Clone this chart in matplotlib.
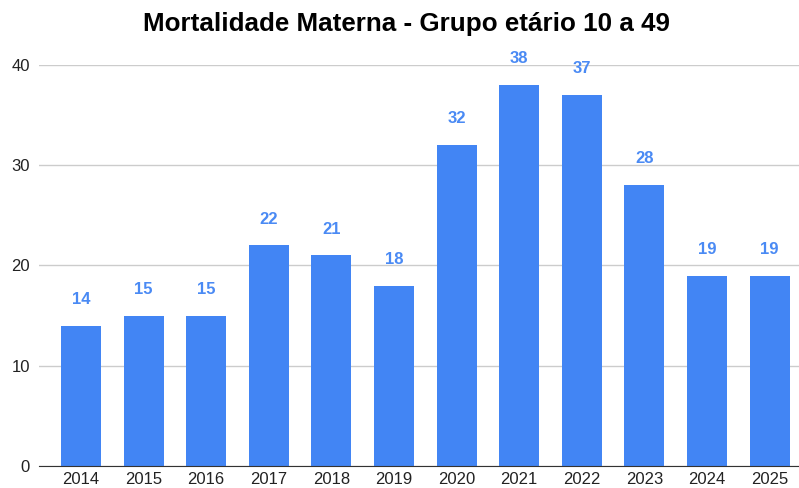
import matplotlib.pyplot as plt
import numpy as np

plt.rcParams['font.family'] = ['Liberation Sans', 'DejaVu Sans']

anos = ['2014', '2015', '2016', '2017', '2018', '2019',
        '2020', '2021', '2022', '2023', '2024', '2025']
obitos = [14, 15, 15, 22, 21, 18, 32, 38, 37, 28, 19, 19]

bar_color = '#4285f4'
label_color = '#4a8af4'

fig = plt.figure(figsize=(7.99, 4.88), dpi=100)
ax = fig.add_axes([0.0488, 0.0451, 0.9512, 0.8217])

x = np.arange(len(anos))
bars = ax.bar(x, obitos, 0.64, color=bar_color, zorder=3)

for b in bars:
    h = b.get_height()
    ax.annotate('%d' % h, (b.get_x() + b.get_width() / 2, h),
                xytext=(0, 19), textcoords='offset points',
                ha='center', va='center', fontsize=12, fontweight='bold',
                color=label_color, annotation_clip=False)

ax.set_xlim(-0.67, 11.47)
ax.set_ylim(0, 40)
ax.set_yticks([0, 10, 20, 30, 40])
ax.set_xticks(x)
ax.set_xticklabels(anos)
ax.tick_params(length=0, labelsize=12, colors='#222222')
ax.tick_params(axis='y', pad=6.5)
ax.tick_params(axis='x', pad=4)
ax.grid(axis='y', color='#cccccc', linewidth=1, zorder=0)
for s in ['top', 'right', 'left']:
    ax.spines[s].set_visible(False)
ax.spines['bottom'].set_color('#333333')
ax.spines['bottom'].set_zorder(4)

fig.suptitle('Mortalidade Materna - Grupo etário 10 a 49', y=0.975,
             fontsize=18.7, fontweight='bold', x=0.509)

fig.savefig('out.png', dpi=100)
